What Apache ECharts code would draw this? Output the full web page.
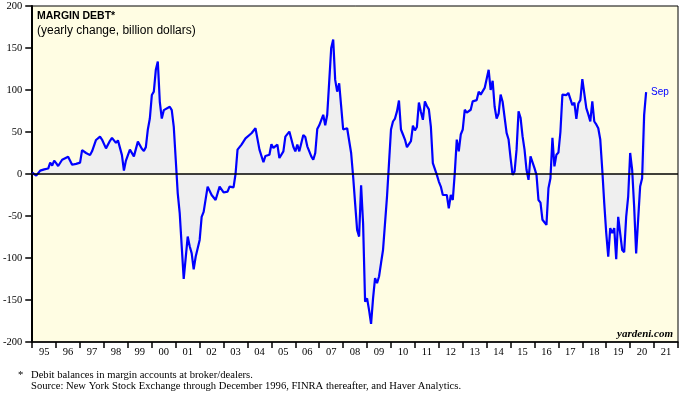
<!DOCTYPE html>
<html>
<head>
<meta charset="utf-8">
<script src="https://cdn.jsdelivr.net/npm/echarts@6/dist/echarts.min.js"></script>
<style>
html, body { margin: 0; padding: 0; background: #fff; }
#chart { width: 679px; height: 398px; }
</style>
</head>
<body>
<div id="chart"></div>
<script>
// months counted from Jan 1995 (0 = Jan 95, 308 = Sep 20)
var monthOffsets = [
	0, 2, 4, 6, 8, 9, 10, 11, 12, 13, 15, 16, 18, 19, 20, 22, 24, 25, 27, 29,
	30, 32, 34, 35, 37, 39, 40, 42, 43, 45, 46, 47, 48, 49, 51, 52, 53, 54, 55, 56,
	57, 58, 59, 60, 61, 62, 63, 64, 65, 66, 67, 69, 70, 71, 72, 73, 74, 75, 76, 78,
	79, 80, 81, 82, 84, 85, 86, 88, 89, 90, 91, 92, 94, 96, 98, 99, 101, 102, 103, 104,
	105, 106, 107, 108, 110, 111, 112, 114, 116, 117, 119, 120, 121, 123, 124, 126, 127, 128, 129, 131,
	132, 133, 134, 136, 137, 138, 140, 141, 142, 143, 144, 145, 146, 147, 148, 149, 150, 151, 152, 153,
	154, 155, 156, 158, 159, 160, 161, 162, 163, 164, 165, 166, 167, 168, 169, 170, 171, 172, 173, 174,
	175, 176, 177, 178, 179, 180, 181, 182, 183, 184, 185, 186, 187, 188, 189, 190, 191, 192, 193, 194,
	195, 196, 197, 198, 199, 200, 201, 202, 203, 204, 205, 206, 207, 208, 209, 210, 211, 212, 213, 214,
	215, 216, 217, 218, 219, 220, 221, 222, 223, 224, 225, 226, 227, 228, 229, 230, 231, 232, 233, 234,
	235, 236, 237, 238, 239, 240, 241, 242, 243, 244, 245, 246, 247, 248, 249, 250, 251, 252, 253, 254,
	255, 256, 257, 258, 259, 260, 261, 262, 263, 264, 265, 266, 267, 268, 269, 270, 271, 272, 273, 274,
	275, 276, 277, 278, 279, 280, 281, 282, 283, 284, 285, 286, 287, 288, 289, 290, 291, 292, 293, 294,
	295, 296, 297, 298, 299, 300, 301, 302, 303, 304, 305, 306, 307, 308
];

// yearly change, billion dollars
var debtChange = [
	1.5, -2, 4, 5.5, 6.5, 13.5, 10, 16, 13, 9.5, 17, 16, 20.5, 19, 11, 12, 13.5, 28.5, 25, 22.5,
	27, 40.5, 44.5, 41, 30.5, 39.5, 43, 37, 40, 22.5, 4, 16, 17, 29, 21, 20, 38.5, 40, 30, 27.5,
	32, 53, 66, 94, 98, 124, 134, 86, 66, 76, 74, 80, 76, 56.5, 17, -23, -47, -86.5, -125, -74.5,
	-86, -94.5, -113.5, -98.5, -78.5, -51, -45, -15, -16, -25, -26, -31, -15, -22, -21, -15, -16, 0, 29, 30,
	35, 37, 42.5, 44, 48.5, 50, 54.5, 29, 14, 21.5, 23, 35.5, 31, 35, 19, 27, 44.5, 44, 50.5, 32.5,
	27, 35, 27, 46.5, 44, 33, 21, 17, 25, 53.5, 58, 56, 70.5, 58, 70.5, 110, 150, 160, 112, 98,
	108, 80.5, 53, 54.5, 53, 25, -3, -35, -66.5, -74.5, -13.5, -59, -152, -148, -162, -178.5, -148, -124, -130, -122,
	-106, -90.5, -91, -27, 13, 53, 62.5, 66, 74.5, 87.5, 53, 47, 41, 32, 34, 39, 57.5, 52, 56, 85,
	74, 64.5, 86.5, 81, 77, 56.5, 13, 11, -1, -9, -15, -25, -25, -25, -41, -25, -31, 1, 41, 27,
	47, 53, 76.5, 73, 75, 76.5, 86.5, 87, 88, 98, 94.5, 94.5, 102.5, 104, 124, 100, 111, 80, 66, 72,
	94.5, 86, 85, 49, 41, 19, -1, 3, 29, 74.5, 67, 45, 29, 5, -7, 21, 19, 7, -1, -31,
	-34, -54.5, -53, -60.5, -17, -5, 43, 9, 23, 25.5, 50, 94.5, 94.5, 94, 96.5, 95.5, 82, 85, 65.5, 84,
	88, 113, 112, 78.5, 71, 62.5, 86.5, 62.5, 59, 54.5, 41, 5, -35, -70.5, -98.5, -64.5, -70.5, -64.5, -101.5, -51,
	-51, -90.5, -93, -51, -27, 25, 5, -39, -94.5, -54.5, -15, -5, 70, 97.5
];

var yearLabels = ['95', '96', '97', '98', '99', '00', '01', '02', '03', '04', '05', '06', '07', '08',
	'09', '10', '11', '12', '13', '14', '15', '16', '17', '18', '19', '20', '21'];

var lastLabel = 'Sep';

var points = monthOffsets.map(function (m, i) {
	return [1995 + m / 12, debtChange[i]];
});

var serif = 'Liberation Serif';
var sans = 'Liberation Sans';

var chart = echarts.init(document.getElementById('chart'));

chart.setOption({
	animation: false,
	grid: {
		left: 31,
		right: 1,
		top: 6,
		bottom: 56,
		show: true,
		backgroundColor: '#fffde3',
		borderColor: '#000',
		borderWidth: 1
	},
	xAxis: [
		{
			type: 'value',
			min: 1995,
			max: 2022,
			show: false
		},
		{
			type: 'category',
			position: 'bottom',
			data: yearLabels,
			boundaryGap: true,
			axisLine: {
				onZero: false,
				lineStyle: { color: '#000', width: 1.5 }
			},
			axisTick: {
				show: true,
				interval: 0,
				length: 6,
				lineStyle: { color: '#000', width: 1.5 }
			},
			axisLabel: {
				interval: 0,
				margin: 5,
				color: '#000',
				fontFamily: serif,
				fontSize: 10.5
			},
			splitLine: { show: false }
		}
	],
	yAxis: {
		type: 'value',
		min: -200,
		max: 200,
		interval: 50,
		axisLine: {
			show: true,
			lineStyle: { color: '#000', width: 2 }
		},
		axisTick: {
			show: true,
			length: 7,
			lineStyle: { color: '#000', width: 1.5 }
		},
		axisLabel: {
			margin: 10,
			color: '#000',
			fontFamily: serif,
			fontSize: 10.5
		},
		splitLine: { show: false }
	},
	series: [
		{
			type: 'line',
			xAxisIndex: 0,
			data: points,
			showSymbol: false,
			lineStyle: { color: '#0000ff', width: 2.2 },
			areaStyle: { color: '#efefef', opacity: 1, origin: 'auto' },
			endLabel: {
				show: true,
				formatter: lastLabel,
				color: '#0000ff',
				fontFamily: sans,
				fontSize: 10,
				distance: 5
			},
			markLine: {
				silent: true,
				symbol: 'none',
				label: { show: false },
				lineStyle: { color: '#000', type: 'solid', width: 1.5 },
				data: [{ yAxis: 0 }]
			}
		}
	],
	graphic: [
		{
			type: 'text', left: 37, top: 11,
			style: { text: 'MARGIN DEBT*', font: 'bold 10.5px ' + sans, fill: '#000' }
		},
		{
			type: 'text', left: 37, top: 25,
			style: { text: '(yearly change, billion dollars)', font: '12px ' + sans, fill: '#000' }
		},
		{
			type: 'text', right: 6, top: 329,
			style: { text: 'yardeni.com', font: 'italic bold 11px ' + serif, fill: '#000' }
		},
		{
			type: 'text', left: 18, top: 370,
			style: { text: '*', font: '10.6px ' + serif, fill: '#000' }
		},
		{
			type: 'text', left: 31, top: 370,
			style: { text: 'Debit balances in margin accounts at broker/dealers.', font: '10.6px ' + serif, fill: '#000' }
		},
		{
			type: 'text', left: 31, top: 381,
			style: { text: 'Source: New York Stock Exchange through December 1996, FINRA thereafter, and Haver Analytics.', font: '10.6px ' + serif, fill: '#000' }
		}
	]
});
</script>
</body>
</html>
